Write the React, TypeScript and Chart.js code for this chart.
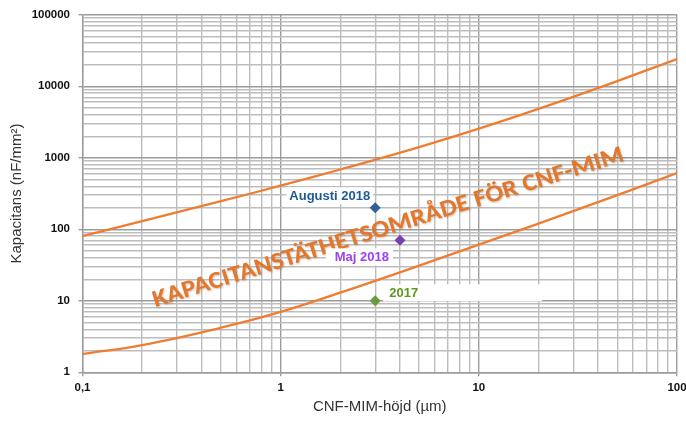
import React, { useEffect, useRef } from "react";
import { Chart, registerables } from "chart.js";

Chart.register(...registerables);

// ---- data ----
const xValues = [0.1, 0.2, 0.5, 1, 2, 5, 10, 20, 50, 100];
const upperValues = [80, 130, 247, 407, 685, 1410, 2550, 4820, 11800, 24000];
const lowerValues = [1.8, 2.4, 4.2, 7, 13, 31, 61, 120, 300, 610];

const pointNames = ["Augusti 2018", "Maj 2018", "2017"];
const pointX = [3, 4, 3];
const pointY = [200, 70, 10];

const xMajorTicks = [0.1, 1, 10, 100];
const xTickLabels = ["0,1", "1", "10", "100"];
const yMajorTicks = [1, 10, 100, 1000, 10000, 100000];
const yTickLabels = ["1", "10", "100", "1000", "10000", "100000"];

const xTitle = "CNF-MIM-höjd (µm)";
const yTitle = "Kapacitans (nF/mm²)";
const bandText = "KAPACITANSTÄTHETSOMRÅDE FÖR CNF-MIM";

// ---- styles ----
const curveColor = "#ef7d31";
const pointColors = ["#355f94", "#7a3fb0", "#6c9a3e"];
const labelColors = ["#1d5a9a", "#9b42f2", "#5b9a1c"];
// label placement relative to the point: [dx, dy, align, boxLeftPad, boxRightPad]
const labelPlacement: Array<[number, number, CanvasTextAlign, number, number]> = [
  [-5, -12, "right", 3, 3],
  [-11, 16.5, "right", 9, 4],
  [14, -8, "left", 6, 124],
];

function buildTicks(majors: number[]) {
  const out: { value: number; major: boolean }[] = [];
  majors.forEach((m, i) => {
    out.push({ value: m, major: true });
    if (i < majors.length - 1) {
      for (let k = 2; k <= 9; k++) out.push({ value: +(m * k).toPrecision(6), major: false });
    }
  });
  return out;
}

function majorLabel(value: number, majors: number[], labels: string[]) {
  const idx = majors.findIndex((m) => Math.abs(Math.log10(m) - Math.log10(value)) < 1e-6);
  return idx >= 0 ? labels[idx] : "";
}

const overlayPlugin = {
  id: "overlay",
  afterDatasetsDraw(chart: any) {
    const ctx: CanvasRenderingContext2D = chart.ctx;
    const area = chart.chartArea;
    // diagonal band text
    ctx.save();
    const cx = area.left + (area.right - area.left) * 0.5175;
    const cy = area.top + (area.bottom - area.top) * 0.613;
    ctx.translate(cx, cy);
    ctx.rotate((-17.3 * Math.PI) / 180);
    ctx.font = "bold 24px Carlito, Lato, 'Liberation Sans', sans-serif";
    const w = ctx.measureText(bandText).width;
    ctx.scale(492 / w, 1);
    ctx.textAlign = "center";
    ctx.textBaseline = "alphabetic";
    ctx.shadowColor = "rgba(110,50,10,0.3)";
    ctx.shadowBlur = 2;
    ctx.shadowOffsetX = 1;
    ctx.shadowOffsetY = 1;
    ctx.fillStyle = "#e2782d";
    ctx.fillText(bandText, 0, 0);
    ctx.restore();

    // point labels
    ctx.save();
    ctx.font = "bold 13px 'Liberation Sans', Arial, sans-serif";
    ctx.textBaseline = "middle";
    pointNames.forEach((name, i) => {
      const meta = chart.getDatasetMeta(2 + i);
      const el = meta.data[0];
      if (!el) return;
      const [dx, dy, align, padL, padR] = labelPlacement[i];
      const tw = ctx.measureText(name).width;
      const tx = el.x + dx;
      const ty = el.y + dy;
      const left = align === "right" ? tx - tw : tx;
      ctx.fillStyle = "#ffffff";
      ctx.fillRect(left - padL, ty - 8.5, tw + padL + padR, 17);
      ctx.fillStyle = labelColors[i];
      ctx.textAlign = align;
      ctx.fillText(name, tx, ty + 0.5);
    });
    ctx.restore();
  },
};

export default function App() {
  const canvasRef = useRef<HTMLCanvasElement | null>(null);

  useEffect(() => {
    document.body.style.margin = "0";
    const canvas = canvasRef.current;
    if (!canvas) return;

    const curveData = (ys: number[]) => xValues.map((x, i) => ({ x, y: ys[i] }));

    const datasets: any[] = [
      {
        label: "upper",
        data: curveData(upperValues),
        borderColor: curveColor,
        borderWidth: 2.3,
        pointRadius: 0,
        tension: 0.4,
        fill: false,
      },
      {
        label: "lower",
        data: curveData(lowerValues),
        borderColor: curveColor,
        borderWidth: 2.3,
        pointRadius: 0,
        tension: 0.4,
        fill: false,
      },
      ...pointNames.map((name, i) => ({
        label: name,
        data: [{ x: pointX[i], y: pointY[i] }],
        showLine: false,
        pointStyle: "rectRot",
        pointRadius: 5.5,
        pointBackgroundColor: pointColors[i],
        pointBorderColor: pointColors[i],
        pointBorderWidth: 0,
      })),
    ];

    const gridColor = (c: any) => (c.tick && c.tick.major ? "#9c9c9c" : "#bdbdbd");
    const tickColor = (c: any) => (c.tick && c.tick.major ? "#9c9c9c" : "rgba(0,0,0,0)");
    const tickFont = { family: "'Liberation Sans', Arial, sans-serif", size: 11.5, weight: "bold" as const };
    const titleFont = { family: "'Liberation Sans', Arial, sans-serif", size: 15 };

    const chart = new Chart(canvas, {
      type: "line",
      data: { datasets },
      plugins: [overlayPlugin],
      options: {
        animation: false,
        responsive: true,
        maintainAspectRatio: false,
        layout: { padding: { top: 14.7, right: 9, left: 0, bottom: 0 } },
        plugins: { legend: { display: false }, tooltip: { enabled: false } },
        scales: {
          x: {
            type: "logarithmic",
            min: 0.1,
            max: 100,
            afterBuildTicks: (scale: any) => {
              scale.ticks = buildTicks(xMajorTicks);
            },
            afterFit: (scale: any) => {
              scale.height = 48.7;
              scale.paddingLeft = 0;
              scale.paddingRight = 0;
            },
            ticks: {
              autoSkip: false,
              maxRotation: 0,
              minRotation: 0,
              padding: 5,
              color: "#111",
              font: tickFont,
              callback: (v: any) => majorLabel(Number(v), xMajorTicks, xTickLabels),
            },
            grid: { color: gridColor, tickColor, lineWidth: 1.4, tickLength: 4 },
            border: { color: "#9c9c9c", width: 1.4 },
            title: {
              display: true,
              text: xTitle,
              color: "#333",
              font: titleFont,
              padding: { top: 0, bottom: 5 },
            },
          },
          y: {
            type: "logarithmic",
            min: 1,
            max: 100000,
            afterBuildTicks: (scale: any) => {
              scale.ticks = buildTicks(yMajorTicks);
            },
            afterFit: (scale: any) => {
              scale.width = 82.5;
              scale.paddingTop = 0;
              scale.paddingBottom = 0;
            },
            ticks: {
              autoSkip: false,
              padding: 8.5,
              color: "#111",
              font: tickFont,
              callback: (v: any) => majorLabel(Number(v), yMajorTicks, yTickLabels),
            },
            grid: { color: gridColor, tickColor, lineWidth: 1.4, tickLength: 4 },
            border: { color: "#9c9c9c", width: 1.4 },
            title: {
              display: true,
              text: yTitle,
              color: "#333",
              font: titleFont,
              padding: { top: 8, bottom: 0 },
            },
          },
        },
      },
    } as any);

    return () => chart.destroy();
  }, []);

  return (
    <div style={{ position: "fixed", left: 0, top: 0, width: 686, height: 421, background: "#fff" }}>
      <canvas ref={canvasRef} />
    </div>
  );
}
